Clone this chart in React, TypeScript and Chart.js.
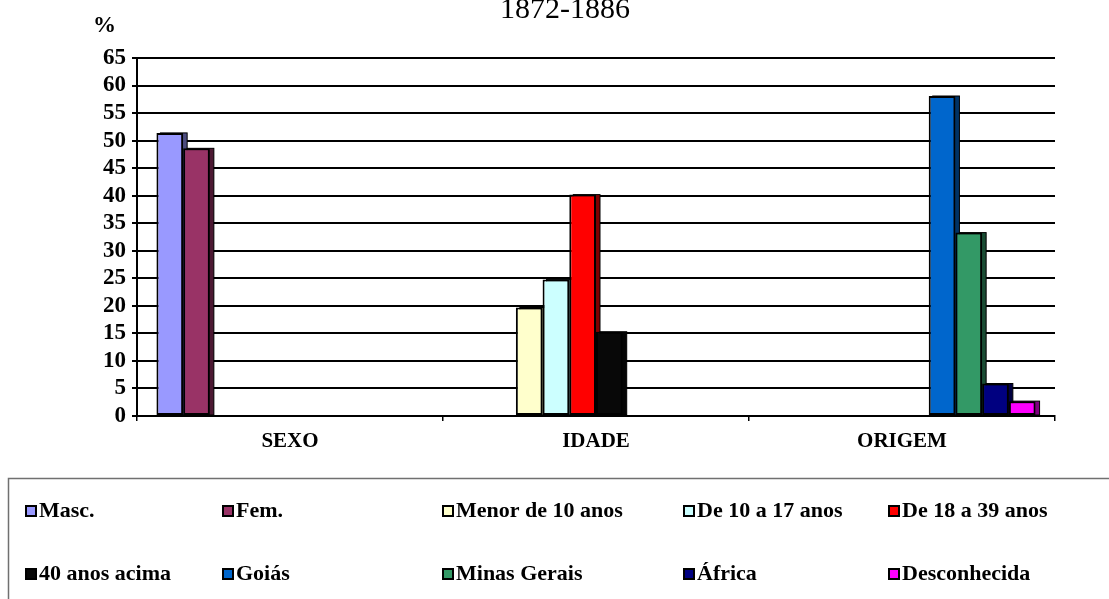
import React, { useEffect, useRef } from "react";
import { Chart, registerables } from "chart.js";

Chart.register(...registerables);

// ---- data ----
const categories = ["SEXO", "IDADE", "ORIGEM"];
const titleText = "1872-1886";
const yAxisLabel = "%";
const yMax = 65;
const yStep = 5;

const masc = [51.4, null, null];
const fem = [48.6, null, null];
const menor10 = [null, 19.7, null];
const de10a17 = [null, 24.8, null];
const de18a39 = [null, 40.2, null];
const acima40 = [null, 15.3, null];
const goias = [null, null, 58.1];
const minasGerais = [null, null, 33.3];
const africa = [null, null, 5.9];
const desconhecida = [null, null, 2.7];

const seriesLabels = [
  "Masc.",
  "Fem.",
  "Menor de 10 anos",
  "De 10 a 17 anos",
  "De 18 a 39 anos",
  "40 anos acima",
  "Goiás",
  "Minas Gerais",
  "África",
  "Desconhecida",
];
const seriesValues = [masc, fem, menor10, de10a17, de18a39, acima40, goias, minasGerais, africa, desconhecida];
const seriesColors = [
  "#9999FF",
  "#993366",
  "#FFFFCC",
  "#CCFFFF",
  "#FF0000",
  "#080808",
  "#0066CC",
  "#339966",
  "#000080",
  "#FF00FF",
];

function darken(hex: string): string {
  const n = parseInt(hex.slice(1), 16);
  const r = ((n >> 16) & 255) >> 1;
  const g = ((n >> 8) & 255) >> 1;
  const b = (n & 255) >> 1;
  return `rgb(${r},${g},${b})`;
}

const FONT = "'Liberation Serif', 'Times New Roman', serif";

const shadowPlugin = {
  id: "barShadow",
  beforeDatasetsDraw(chart: any) {
    const ctx = chart.ctx;
    ctx.save();
    chart.data.datasets.forEach((ds: any, i: number) => {
      const meta = chart.getDatasetMeta(i);
      meta.data.forEach((bar: any, j: number) => {
        const v = ds.data[j];
        if (v === null || v === undefined) return;
        const w = bar.width;
        const left = bar.x - w / 2 + 4;
        const top = bar.y;
        const h = bar.base - bar.y;
        ctx.fillStyle = darken(ds.backgroundColor);
        ctx.fillRect(left, top, w, h);
        ctx.strokeStyle = "#000";
        ctx.lineWidth = 1;
        ctx.strokeRect(left, top, w, h);
      });
    });
    ctx.restore();
  },
};

const decorPlugin = {
  id: "decor",
  afterDraw(chart: any) {
    const ctx = chart.ctx;
    ctx.save();
    // title
    ctx.fillStyle = "#000";
    ctx.font = `30px ${FONT}`;
    ctx.textAlign = "center";
    ctx.textBaseline = "alphabetic";
    ctx.fillText(titleText, 565, 18);
    // axis unit label
    ctx.font = `bold 23px ${FONT}`;
    ctx.textAlign = "left";
    ctx.fillText(yAxisLabel, 93, 32);

    // legend box
    ctx.strokeStyle = "#707070";
    ctx.lineWidth = 1.5;
    ctx.beginPath();
    ctx.moveTo(1120, 478.5);
    ctx.lineTo(8.5, 478.5);
    ctx.lineTo(8.5, 610);
    ctx.stroke();

    const colX = [25, 222, 442, 683, 888];
    const rowY = [505, 568];
    ctx.font = `bold 22px ${FONT}`;
    chart.data.datasets.forEach((ds: any, i: number) => {
      const x = colX[i % 5];
      const y = rowY[Math.floor(i / 5)];
      ctx.fillStyle = ds.backgroundColor;
      ctx.fillRect(x, y, 12, 12);
      ctx.strokeStyle = "#000";
      ctx.lineWidth = 2;
      ctx.strokeRect(x + 1, y + 1, 10, 10);
      ctx.fillStyle = "#000";
      ctx.textAlign = "left";
      ctx.textBaseline = "alphabetic";
      ctx.fillText(ds.label, x + 14, y + 12);
    });
    ctx.restore();
  },
};

export default function App() {
  const ref = useRef<HTMLCanvasElement>(null);

  useEffect(() => {
    if (!ref.current) return;
    const chart = new Chart(ref.current, {
      type: "bar",
      data: {
        labels: categories,
        datasets: seriesLabels.map((label, i) => ({
          label,
          data: seriesValues[i],
          backgroundColor: seriesColors[i],
          borderColor: "#000",
          borderWidth: 2,
          borderSkipped: false,
          categoryPercentage: 0.873,
          barPercentage: 1.0,
        })),
      },
      options: {
        animation: false,
        responsive: false,
        devicePixelRatio: 1,
        layout: { padding: { left: 0, right: 54, top: 58, bottom: 143 } },
        plugins: {
          legend: { display: false },
          title: { display: false },
          tooltip: { enabled: false },
        },
        scales: {
          x: {
            offset: true,
            grid: {
              offset: true,
              drawOnChartArea: false,
              drawTicks: true,
              tickLength: 5,
              color: "#000",
              lineWidth: 1.5,
            },
            border: { display: true, color: "#000", width: 2 },
            ticks: {
              color: "#000",
              font: { family: FONT, size: 21, weight: "bold" },
              padding: 8,
            },
            afterFit(scale: any) {
              scale.height = 40;
            },
          },
          y: {
            min: 0,
            max: yMax,
            ticks: {
              stepSize: yStep,
              autoSkip: false,
              maxTicksLimit: 30,
              color: "#000",
              font: { family: FONT, size: 23, weight: "bold" },
              padding: 6,
            },
            grid: {
              color: "#000",
              lineWidth: 2,
              tickLength: 5,
            },
            border: { display: true, color: "#000", width: 2 },
            afterFit(scale: any) {
              scale.width = 137;
            },
          },
        },
      },
      plugins: [shadowPlugin, decorPlugin],
    });
    return () => chart.destroy();
  }, []);

  return (
    <div style={{ position: "absolute", left: 0, top: 0, width: 1109, height: 599, background: "#fff" }}>
      <canvas ref={ref} width={1109} height={599} style={{ display: "block" }} />
    </div>
  );
}
